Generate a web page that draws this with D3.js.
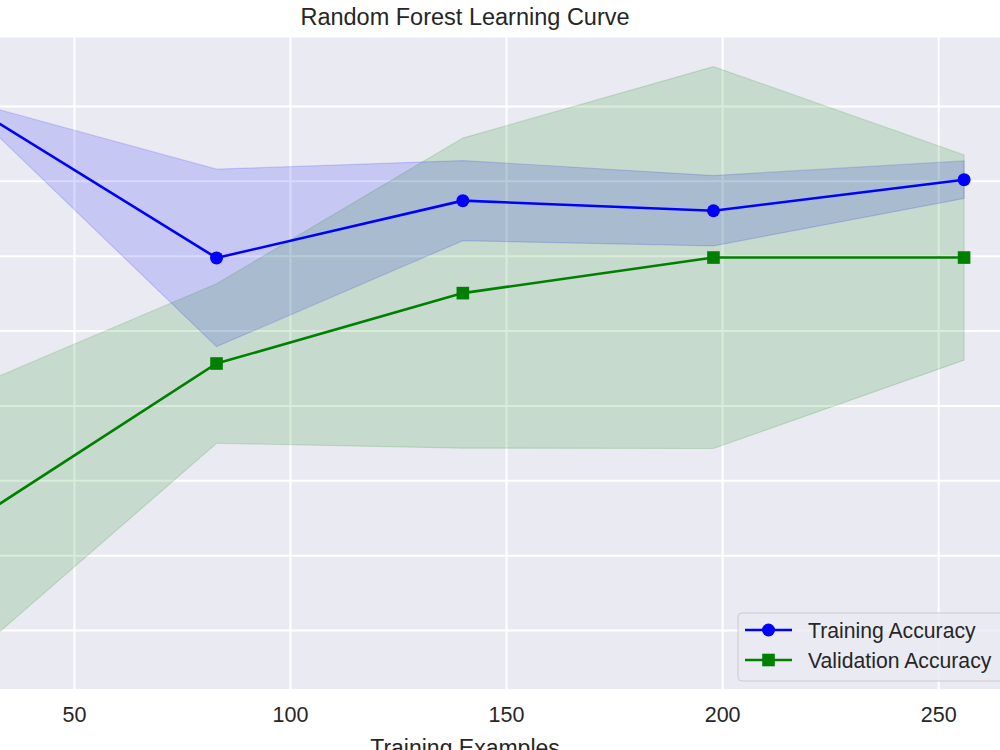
<!DOCTYPE html>
<html>
<head>
<meta charset="utf-8">
<script src="https://cdn.jsdelivr.net/npm/d3@7"></script>
<style>
  body { margin: 0; background: #fff; }
  svg { display: block; font-family: "Liberation Sans", Arial, sans-serif; }
</style>
</head>
<body>
<svg id="chart" width="1000" height="750"></svg>
<script>
// learning curve data
const trainSizes = [25, 83, 140, 198, 256];
const trainMean = [0.9808, 0.9394, 0.9547, 0.9520, 0.9603];
const trainStd = [0.0006, 0.0237, 0.0107, 0.0094, 0.0050];
const valMean = [0.8679, 0.9112, 0.9300, 0.9395, 0.9395];
const valStd = [0.0362, 0.0213, 0.0414, 0.0510, 0.0274];
const xTicks = [50, 100, 150, 200, 250];
const yTicks = [0.84, 0.86, 0.88, 0.90, 0.92, 0.94, 0.96, 0.98];
const seriesNames = ['Training Accuracy', 'Validation Accuracy'];

// plot box runs off the left and right of the picture, like the original crop
const plot = {left: -84, right: 1014, top: 37.5, bottom: 689};

const svg = d3.select('#chart');

const x = d3.scaleLinear()
  .domain([13.45, 267.55])
  .range([plot.left, plot.right]);

const y = d3.scaleLinear()
  .domain([0.82427, 0.99827])
  .range([plot.bottom, plot.top]);

svg.append('defs').append('clipPath')
  .attr('id', 'plotClip')
  .append('rect')
  .attr('x', plot.left).attr('y', plot.top)
  .attr('width', plot.right - plot.left)
  .attr('height', plot.bottom - plot.top);

svg.append('rect')
  .attr('x', plot.left).attr('y', plot.top)
  .attr('width', plot.right - plot.left)
  .attr('height', plot.bottom - plot.top)
  .attr('fill', '#eaeaf2');

// grid lines
const xAxis = d3.axisBottom(x).tickValues(xTicks).tickSize(-(plot.bottom - plot.top)).tickPadding(18);
const yAxis = d3.axisLeft(y).tickValues(yTicks).tickSize(-(plot.right - plot.left)).tickFormat('');

const gx = svg.append('g')
  .attr('transform', 'translate(0,' + plot.bottom + ')')
  .call(xAxis);
gx.select('.domain').remove();
gx.selectAll('line').attr('stroke', '#ffffff').attr('stroke-width', 2);
gx.selectAll('text')
  .attr('fill', '#262626')
  .style('font-size', '21.5px');

const gy = svg.append('g')
  .attr('transform', 'translate(' + plot.left + ',0)')
  .call(yAxis);
gy.select('.domain').remove();
gy.selectAll('line').attr('stroke', '#ffffff').attr('stroke-width', 2);

const plotG = svg.append('g').attr('clip-path', 'url(#plotClip)');

const trainData = trainSizes.map((s, i) => ({s: s, m: trainMean[i], sd: trainStd[i]}));
const valData = trainSizes.map((s, i) => ({s: s, m: valMean[i], sd: valStd[i]}));

const area = d3.area()
  .x(d => x(d.s))
  .y0(d => y(d.m - d.sd))
  .y1(d => y(d.m + d.sd));

const line = d3.line()
  .x(d => x(d.s))
  .y(d => y(d.m));

// bands first, lines on top
plotG.append('path')
  .datum(trainData)
  .attr('d', area)
  .attr('fill', 'rgba(0,0,255,0.15)')
  .attr('stroke', 'rgba(0,0,255,0.15)')
  .attr('stroke-width', 1.2);

plotG.append('path')
  .datum(valData)
  .attr('d', area)
  .attr('fill', 'rgba(0,128,0,0.15)')
  .attr('stroke', 'rgba(0,128,0,0.15)')
  .attr('stroke-width', 1.2);

plotG.append('path')
  .datum(trainData)
  .attr('d', line)
  .attr('fill', 'none')
  .attr('stroke', 'blue')
  .attr('stroke-width', 2.6);

plotG.selectAll('.trainDot')
  .data(trainData)
  .enter().append('circle')
  .attr('class', 'trainDot')
  .attr('cx', d => x(d.s))
  .attr('cy', d => y(d.m))
  .attr('r', 6.5)
  .attr('fill', 'blue');

plotG.append('path')
  .datum(valData)
  .attr('d', line)
  .attr('fill', 'none')
  .attr('stroke', 'green')
  .attr('stroke-width', 2.6);

plotG.selectAll('.valDot')
  .data(valData)
  .enter().append('rect')
  .attr('class', 'valDot')
  .attr('x', d => x(d.s) - 6.3)
  .attr('y', d => y(d.m) - 6.3)
  .attr('width', 12.6)
  .attr('height', 12.6)
  .attr('fill', 'green');

// title and x label
const midX = (plot.left + plot.right) / 2;
svg.append('text')
  .attr('x', midX)
  .attr('y', 25)
  .attr('text-anchor', 'middle')
  .attr('fill', '#262626')
  .style('font-size', '23.5px')
  .text('Random Forest Learning Curve');

// the reference crop cuts this label at the bottom edge as well
svg.append('text')
  .attr('x', midX)
  .attr('y', 756)
  .attr('text-anchor', 'middle')
  .attr('fill', '#262626')
  .style('font-size', '23px')
  .text('Training Examples');

// legend, lower right
const legend = svg.append('g');
legend.append('rect')
  .attr('x', 738).attr('y', 613)
  .attr('width', 275).attr('height', 68)
  .attr('rx', 4)
  .attr('fill', 'rgba(234,234,242,0.8)')
  .attr('stroke', '#cccccc')
  .attr('stroke-width', 1);

const legendRows = legend.selectAll('.row')
  .data(seriesNames)
  .enter().append('g')
  .attr('class', 'row')
  .attr('transform', (d, i) => 'translate(0,' + (630 + i * 30) + ')');

const legendColors = ['blue', 'green'];
legendRows.append('line')
  .attr('x1', 745).attr('x2', 792)
  .attr('stroke', (d, i) => legendColors[i])
  .attr('stroke-width', 2.6);

legendRows.each(function(d, i) {
  const row = d3.select(this);
  if (i === 0) {
    row.append('circle').attr('cx', 768.5).attr('cy', 0).attr('r', 6.5).attr('fill', 'blue');
  } else {
    row.append('rect').attr('x', 762.2).attr('y', -6.3).attr('width', 12.6).attr('height', 12.6).attr('fill', 'green');
  }
});

legendRows.append('text')
  .attr('x', 808)
  .attr('y', 7.5)
  .attr('fill', '#262626')
  .style('font-size', '21.2px')
  .text(d => d);
</script>
</body>
</html>
